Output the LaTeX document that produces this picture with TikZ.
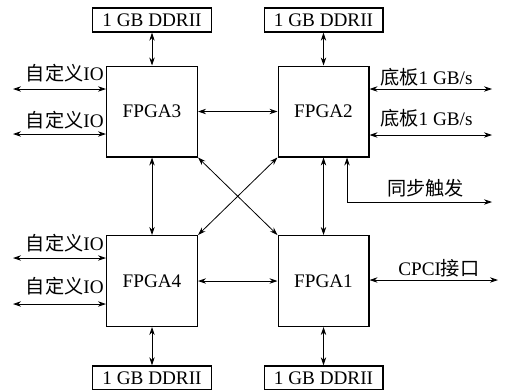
\documentclass[tikz,border=0pt]{standalone}
\usepackage{fontspec}
\setmainfont{Liberation Serif}
\newfontfamily\cjk{Noto Sans CJK SC}
\usetikzlibrary{arrows.meta,positioning,calc}
\newcommand{\zh}[1]{{\cjk #1}}

\begin{document}
\begin{tikzpicture}[x=0.75pt,y=-0.75pt,>={Stealth[length=6pt,width=4pt]},
  every node/.style={font=\fontsize{14.4}{16}\selectfont},
  fpga/.style={draw,line width=1pt,minimum size=68pt,inner sep=0pt},
  ddr/.style={draw,line width=1pt,minimum width=89pt,minimum height=18pt,inner sep=0pt},
  lbl/.style={inner sep=0pt},
  link/.style={<->,line width=0.6pt}]
\useasboundingbox (0,0) rectangle (510,389);
% FPGA chips
\node[fpga] (fpga3) at (152,111.5) {FPGA3};
\node[fpga] (fpga2) at (323.5,111.5) {FPGA2};
\node[fpga] (fpga4) at (152,281) {FPGA4};
\node[fpga] (fpga1) at (323.5,281) {FPGA1};
% memories
\node[ddr] (ddr3) at (152,20) {1 GB DDRII};
\node[ddr] (ddr2) at (323.5,20) {1 GB DDRII};
\node[ddr] (ddr4) at (152,378) {1 GB DDRII};
\node[ddr] (ddr1) at (323.5,378) {1 GB DDRII};
\draw[link] (ddr3) -- (fpga3);
\draw[link] (ddr2) -- (fpga2);
\draw[link] (ddr4) -- (fpga4);
\draw[link] (ddr1) -- (fpga1);
% links between chips
\draw[link] (fpga3) -- (fpga2);
\draw[link] (fpga4) -- (fpga1);
\draw[link] (fpga3) -- (fpga4);
\draw[link] (fpga2) -- (fpga1);
\draw[link] (fpga3.south east) -- (fpga1.north west);
\draw[link] (fpga4.north east) -- (fpga2.south west);
% custom IO
\coordinate (io3a) at (13,89);
\coordinate (io3b) at (13,134);
\coordinate (io4a) at (13,258);
\coordinate (io4b) at (13,304);
\draw[link] (io3a) -- (io3a -| fpga3.west);
\draw[link] (io3b) -- (io3b -| fpga3.west);
\draw[link] (io4a) -- (io4a -| fpga4.west);
\draw[link] (io4b) -- (io4b -| fpga4.west);
\node[lbl,anchor=east] (io3alabel) at (104,73) {\zh{自定义}IO};
\node[lbl,anchor=east] (io3blabel) at (104,120) {\zh{自定义}IO};
\node[lbl,anchor=east] (io4alabel) at (104,243) {\zh{自定义}IO};
\node[lbl,anchor=east] (io4blabel) at (104,286) {\zh{自定义}IO};
% backplane
\coordinate (bpa) at (492,89);
\coordinate (bpb) at (492,135);
\draw[link] (bpa -| fpga2.east) -- (bpa);
\draw[link] (bpb -| fpga2.east) -- (bpb);
\node[lbl,anchor=west] (bpalabel) at (380,77) {\zh{底板}1 GB/s};
\node[lbl,anchor=west] (bpblabel) at (380,118) {\zh{底板}1 GB/s};
% sync trigger
\coordinate (sync) at (492,202);
\draw[link] (sync) -| ($(fpga2.south)+(23.5,0)$);
\node[lbl,anchor=west] (synclabel) at (387,188) {\zh{同步触发}};
% CPCI
\coordinate (cpci) at (498,280);
\draw[link] (cpci -| fpga1.east) -- (cpci);
\node[lbl,anchor=west] (cpcilabel) at (398,268) {CPCI\zh{接口}};
\end{tikzpicture}
\end{document}
